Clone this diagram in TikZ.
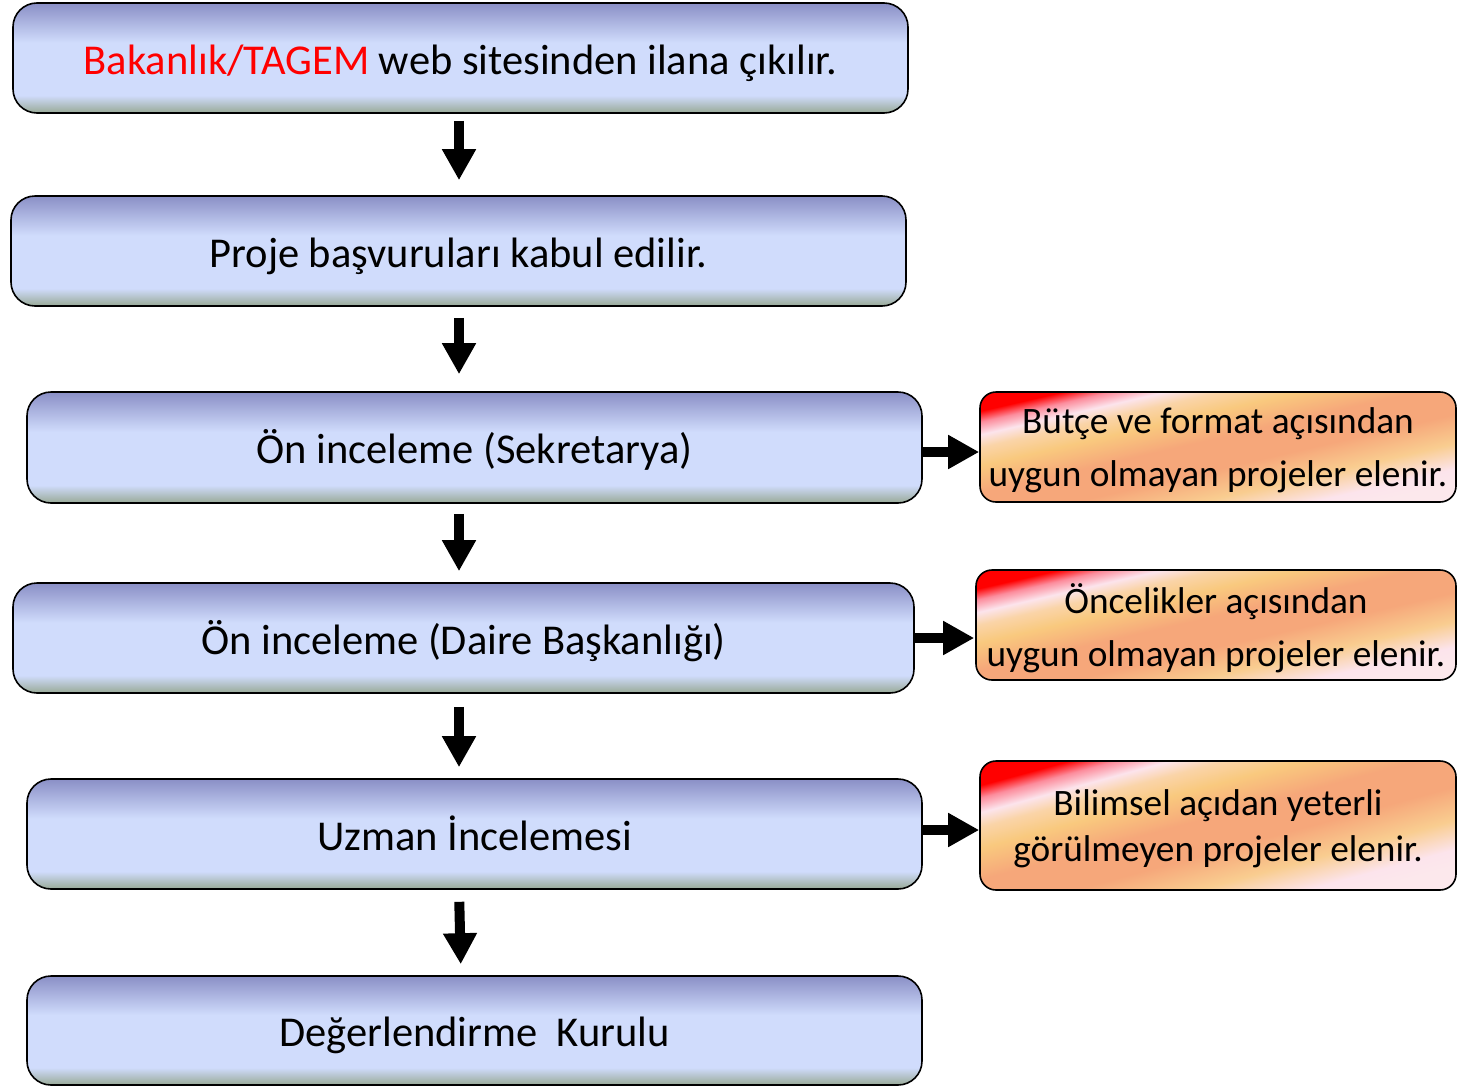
\documentclass[tikz,border=0pt]{standalone}
\usepackage{fontspec}
\setmainfont{Carlito}
\usetikzlibrary{arrows.meta}
\definecolor{bTop}{HTML}{8A8FC6}
\definecolor{bMid}{HTML}{D0DCFC}
\definecolor{bBot}{HTML}{98A996}
\definecolor{oRed}{HTML}{FF0000}
\definecolor{oRp}{HTML}{FC8C9C}
\definecolor{oPink}{HTML}{FCE4EC}
\definecolor{oLt}{HTML}{FAD4A8}
\definecolor{oYel}{HTML}{F9C97E}
\definecolor{oSal}{HTML}{F6A77A}
\definecolor{oYl2}{HTML}{F9CD90}
\definecolor{oEnd}{HTML}{FCE8EC}
\definecolor{tRed}{HTML}{FF0000}
\pgfdeclareverticalshading{blueshade}{100bp}{color(0bp)=(bBot); color(25bp)=(bBot); color(33bp)=(bMid); color(57bp)=(bMid); color(75bp)=(bTop); color(100bp)=(bTop)}
\pgfdeclarehorizontalshading{fire}{100bp}{color(0bp)=(oRed); color(25bp)=(oRed); color(28bp)=(oRp); color(31.5bp)=(oPink); color(35bp)=(oLt); color(40bp)=(oYel); color(47.5bp)=(oSal); color(56bp)=(oSal); color(64bp)=(oYl2); color(71bp)=(oPink); color(75bp)=(oEnd); color(100bp)=(oEnd)}
\tikzset{
  mainbox/.style={draw=black, line width=1.6pt, rounded corners=24pt, shading=blueshade,
    minimum width=895pt, minimum height=110pt, inner sep=0pt, text depth=5pt, text height=37pt,
    font=\fontsize{42.5}{51}\selectfont, text=black},
  sidebox/.style={draw=black, line width=1.6pt, rounded corners=16pt, shading=fire,
    minimum width=476pt, minimum height=110pt, inner sep=0pt,
    align=center, text=black},
  darr/.style={line width=10pt, -{Triangle[width=32pt,length=31pt]}},
}
\begin{document}
\begin{tikzpicture}[x=1pt, y=-1pt]
\useasboundingbox (0,0) rectangle (1458,1087);

\node[mainbox] (b1) at (460.5,58) {\textcolor{tRed}{Bakanlık/TAGEM} web sitesinden ilana çıkılır.};
\node[mainbox] (b2) at (458.5,251) {Proje başvuruları kabul edilir.};
\node[mainbox, minimum height=111pt] (b3) at (474.5,447.5) {Ön inceleme (Sekretarya)};
\node[mainbox, minimum width=901pt] (b4) at (463.5,638) {Ön inceleme (Daire Başkanlığı)};
\node[mainbox] (b5) at (474.5,834) {Uzman İncelemesi};
\node[mainbox, minimum height=109pt] (b6) at (474.5,1030.5) {Değerlendirme~ Kurulu};

\node[sidebox, shading angle=-77, text depth=-2pt, font=\fontsize{37.3}{53}\selectfont] (s1) at (1218,447) {Bütçe ve format açısından\\uygun olmayan projeler elenir.};
\node[sidebox, shading angle=-77.1, text depth=-2pt, minimum width=480pt, font=\fontsize{37.3}{53}\selectfont] (s2) at (1216,625) {Öncelikler açısından\\uygun olmayan projeler elenir.};
\node[sidebox, shading angle=-74.8, text depth=-4pt, minimum height=129pt, font=\fontsize{37.3}{46}\selectfont] (s3) at (1218,825.5) {Bilimsel açıdan yeterli\\görülmeyen projeler elenir.};

\draw[darr, shorten <=7pt, shorten >=15pt] ([xshift=-1.5pt]b1.south) -- ([xshift=0.5pt]b2.north);
\draw[darr, shorten <=11pt, shorten >=17pt] ([xshift=0.5pt]b2.south) -- ([xshift=-15.5pt]b3.north);
\draw[darr, shorten <=10pt, shorten >=11pt] ([xshift=-15.5pt]b3.south) -- ([xshift=-4.5pt]b4.north);
\draw[darr, shorten <=13pt, shorten >=11pt] ([xshift=-4.5pt]b4.south) -- ([xshift=-15.5pt]b5.north);
\draw[darr, shorten <=12pt, shorten >=11pt] ([xshift=-15.5pt]b5.south) -- ([xshift=-13.5pt]b6.north);

\draw[darr] ([yshift=-4.5pt]b3.east) -- ([yshift=-5pt]s1.west);
\draw[darr, shorten >=1pt] (b4.east) -- ([yshift=-13pt]s2.west);
\draw[darr] ([yshift=4pt]b5.east) -- ([yshift=-4.5pt]s3.west);
\end{tikzpicture}
\end{document}
